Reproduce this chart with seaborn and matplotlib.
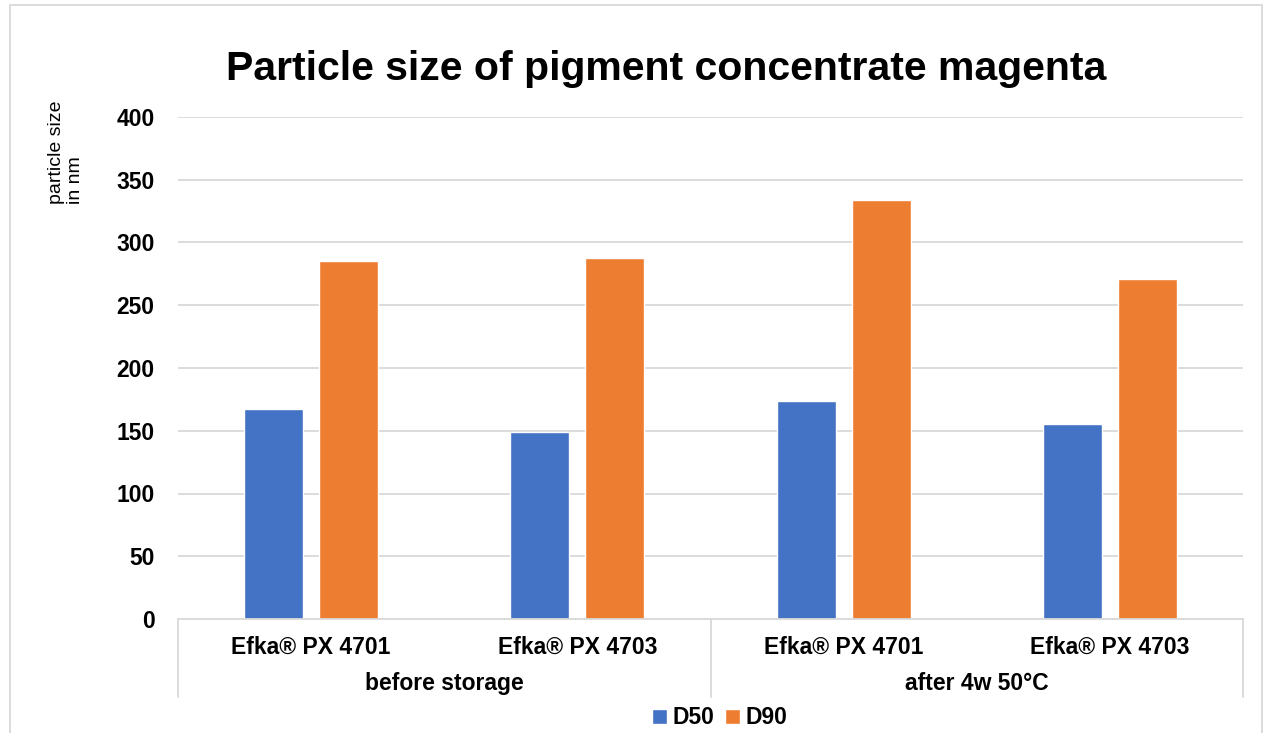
import matplotlib
matplotlib.use("Agg")
import matplotlib.pyplot as plt
import matplotlib.transforms as mtransforms
from matplotlib.patches import Rectangle
import seaborn as sns
import pandas as pd

# ---- data ----
groups = ["before storage", "before storage", "after 4w 50°C", "after 4w 50°C"]
products = ["Efka® PX 4701", "Efka® PX 4703", "Efka® PX 4701", "Efka® PX 4703"]
d50 = [167, 149, 174, 155]
d90 = [285, 288, 334, 271]
series = ["D50", "D90"]
colors = ["#4472C4", "#ED7D31"]
title = "Particle size of pigment concentrate magenta"
ylabel = "particle size\nin nm"
yticks = [0, 50, 100, 150, 200, 250, 300, 350, 400]

keys = [f"{g}|{p}" for g, p in zip(groups, products)]
df = pd.DataFrame({
    "key": keys * 2,
    "series": ["D50"] * 4 + ["D90"] * 4,
    "value": d50 + d90,
})

sns.set_theme(style="white")
plt.rcParams["font.family"] = ["Liberation Sans", "DejaVu Sans"]
plt.rcParams["text.color"] = "black"
plt.rcParams["xtick.color"] = "black"
plt.rcParams["ytick.color"] = "black"

fig = plt.figure(figsize=(12.7, 7.33), dpi=100)
ax = fig.add_axes([178 / 1270, (733 - 619) / 733, (1243 - 178) / 1270, 502 / 733])

sns.barplot(data=df, x="key", y="value", hue="series", order=keys,
            hue_order=series, palette=colors, width=0.564, gap=0.213,
            saturation=1, ax=ax, errorbar=None)

ax.set_ylim(0, 400)
ax.set_xlim(-0.5, 3.5)
ax.set_yticks(yticks)
ax.set_yticklabels([str(v) for v in yticks], fontsize=16.5, fontweight="bold")
ax.set_xticks(range(len(keys)))
ax.set_xticklabels(products, fontsize=16.5, fontweight="bold")
ax.tick_params(axis="y", length=0, pad=17, labelcolor="black")
ax.tick_params(axis="x", length=0, pad=12, labelcolor="black")
ax.set_xlabel("")
ax.set_ylabel("")
ax.yaxis.grid(True, color="#D9D9D9", linewidth=1.3)
ax.set_axisbelow(True)
for s in ["top", "right", "left"]:
    ax.spines[s].set_visible(False)
ax.spines["bottom"].set_color("#D9D9D9")
ax.spines["bottom"].set_linewidth(1.3)

# group labels and separators
trans = mtransforms.blended_transform_factory(ax.transData, ax.transAxes)
group_names = []
for g in groups:
    if g not in group_names:
        group_names.append(g)
for i, g in enumerate(group_names):
    idx = [k for k, gg in enumerate(groups) if gg == g]
    cx = (idx[0] + idx[-1]) / 2
    ax.text(cx, -0.1275, g, transform=trans, ha="center", va="center",
            fontsize=16.5, fontweight="bold", color="black")
for xb in [-0.5, 1.5, 3.5]:
    ax.plot([xb, xb], [0, -0.155], transform=trans, color="#D9D9D9",
            linewidth=1.3, clip_on=False)

# legend
handles, labels = ax.get_legend_handles_labels()
if ax.get_legend() is not None:
    ax.get_legend().remove()
leg = fig.legend(handles, labels, loc="center", bbox_to_anchor=(720 / 1270, 1 - 718 / 733),
                 ncol=2, frameon=False, handlelength=0.65, handleheight=0.65,
                 handletextpad=0.25, columnspacing=0.45,
                 prop={"size": 16.5, "weight": "bold"})
for t in leg.get_texts():
    t.set_color("black")

# title and y label
fig.text(666 / 1270, 1 - 69 / 733, title, ha="center", va="center",
         fontsize=29.5, fontweight="bold", color="black")
fig.text(66 / 1270, 1 - 152 / 733, ylabel, rotation=90, ha="center",
         va="center", multialignment="left", fontsize=14, color="black")

# outer frame
fig.patches.append(Rectangle((10 / 1270, -0.02), 1252 / 1270, (733 - 5) / 733 + 0.02,
                             transform=fig.transFigure, fill=False,
                             edgecolor="#D9D9D9", linewidth=1.3))

fig.savefig("out.png", dpi=100)
